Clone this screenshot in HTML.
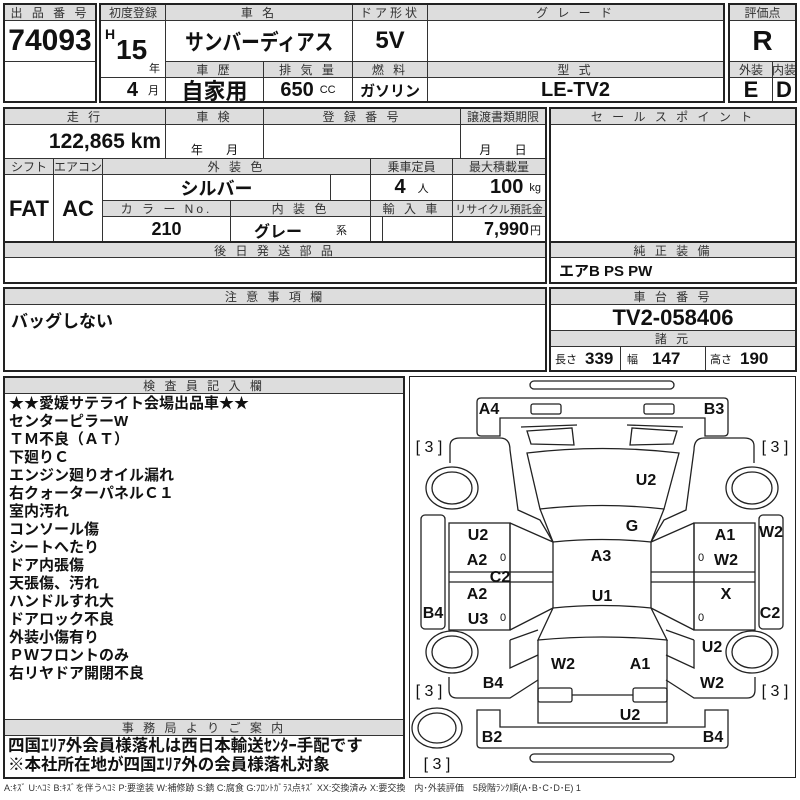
<!DOCTYPE html>
<html><head><meta charset="utf-8"><style>
body{margin:0;width:800px;height:800px;background:#fff;position:relative;overflow:hidden;font-family:"Liberation Sans","Noto Sans CJK JP",sans-serif;color:#111}
.c{position:absolute;box-sizing:border-box;border:1px solid #333;display:flex;align-items:center;justify-content:center;background:#fff;white-space:nowrap;overflow:hidden}
.h{position:absolute;box-sizing:border-box;border:1px solid #333;display:flex;align-items:center;justify-content:center;background:#ddd;font-size:12px;color:#333;letter-spacing:3px;white-space:nowrap}
.o{position:absolute;box-sizing:border-box;border:2px solid #222}
.v{font-weight:bold;font-size:22px}
.s{font-size:11px;font-weight:normal;margin-left:6px}
</style></head><body>
<!-- block 1 -->
<div class="h" style="left:4px;top:4px;width:92px;height:17px">出 品 番 号</div>
<div class="c v" style="left:4px;top:20px;width:92px;height:42px;font-size:30px">74093</div>
<div class="c" style="left:4px;top:61px;width:92px;height:42px"></div>
<div class="o" style="left:3px;top:3px;width:94px;height:100px"></div>

<div class="h" style="left:100px;top:4px;width:66px;height:17px;letter-spacing:0">初度登録</div>
<div class="c" style="left:100px;top:20px;width:66px;height:58px"></div>
<div style="position:absolute;left:105px;top:26px;font-weight:bold;font-size:14px">H</div>
<div style="position:absolute;left:116px;top:34px;font-weight:bold;font-size:28px">15</div>
<div style="position:absolute;left:149px;top:60px;font-size:11px">年</div>
<div class="c" style="left:100px;top:77px;width:66px;height:26px;justify-content:flex-end;padding-right:6px"><b style="font-size:20px">4</b><span class="s" style="margin-left:10px">月</span></div>
<div class="h" style="left:165px;top:4px;width:188px;height:17px">車 名</div>
<div class="c v" style="left:165px;top:20px;width:188px;height:42px;font-size:22px"><span style="display:inline-block;transform:scaleX(0.85)">サンバーディアス</span></div>
<div class="h" style="left:165px;top:61px;width:99px;height:17px">車 歴</div>
<div class="h" style="left:263px;top:61px;width:90px;height:17px">排 気 量</div>
<div class="c v" style="left:165px;top:77px;width:99px;height:26px;font-size:22px">自家用</div>
<div class="c" style="left:263px;top:77px;width:90px;height:26px"><b style="font-size:20px">650</b><span class="s">CC</span></div>
<div class="h" style="left:352px;top:4px;width:76px;height:17px">ドア形状</div>
<div class="c v" style="left:352px;top:20px;width:76px;height:42px;font-size:24px">5V</div>
<div class="h" style="left:352px;top:61px;width:76px;height:17px">燃 料</div>
<div class="c" style="left:352px;top:77px;width:76px;height:26px;font-weight:bold;font-size:15px">ガソリン</div>
<div class="h" style="left:427px;top:4px;width:297px;height:17px">グ レ ー ド</div>
<div class="c" style="left:427px;top:20px;width:297px;height:42px"></div>
<div class="h" style="left:427px;top:61px;width:297px;height:17px">型 式</div>
<div class="c v" style="left:427px;top:77px;width:297px;height:26px;font-size:20px">LE-TV2</div>
<div class="o" style="left:99px;top:3px;width:626px;height:100px"></div>

<div class="h" style="left:729px;top:4px;width:67px;height:17px;letter-spacing:0">評価点</div>
<div class="c v" style="left:729px;top:20px;width:67px;height:42px;font-size:28px">R</div>
<div class="h" style="left:729px;top:61px;width:44px;height:17px;letter-spacing:0">外装</div>
<div class="h" style="left:772px;top:61px;width:24px;height:17px;letter-spacing:0">内装</div>
<div class="c v" style="left:729px;top:77px;width:44px;height:26px">E</div>
<div class="c v" style="left:772px;top:77px;width:24px;height:26px">D</div>
<div class="o" style="left:728px;top:3px;width:69px;height:100px"></div>

<!-- block 2 -->
<div class="h" style="left:4px;top:108px;width:162px;height:17px">走 行</div>
<div class="c" style="left:4px;top:124px;width:162px;height:35px;justify-content:flex-end;padding-right:4px"><b style="font-size:21px">122,865 km</b></div>
<div class="h" style="left:165px;top:108px;width:99px;height:17px">車 検</div>
<div class="c" style="left:165px;top:124px;width:99px;height:35px;align-items:flex-end;font-size:12px">年&nbsp;&nbsp;&nbsp;&nbsp;&nbsp;&nbsp;&nbsp;月</div>
<div class="h" style="left:263px;top:108px;width:198px;height:17px">登 録 番 号</div>
<div class="c" style="left:263px;top:124px;width:198px;height:35px"></div>
<div class="h" style="left:460px;top:108px;width:86px;height:17px;letter-spacing:0">譲渡書類期限</div>
<div class="c" style="left:460px;top:124px;width:86px;height:35px;align-items:flex-end;font-size:12px">月&nbsp;&nbsp;&nbsp;&nbsp;&nbsp;&nbsp;&nbsp;日</div>
<div class="h" style="left:4px;top:158px;width:50px;height:17px;letter-spacing:0">シフト</div>
<div class="h" style="left:53px;top:158px;width:50px;height:17px;letter-spacing:0">エアコン</div>
<div class="c v" style="left:4px;top:174px;width:50px;height:69px">FAT</div>
<div class="c v" style="left:53px;top:174px;width:50px;height:69px">AC</div>
<div class="h" style="left:102px;top:158px;width:269px;height:17px">外 装 色</div>
<div class="c v" style="left:102px;top:174px;width:229px;height:27px;font-size:18px">シルバー</div>
<div class="c" style="left:330px;top:174px;width:41px;height:27px"></div>
<div class="h" style="left:102px;top:200px;width:129px;height:17px">カ ラ ー No.</div>
<div class="h" style="left:230px;top:200px;width:141px;height:17px">内 装 色</div>
<div class="c v" style="left:102px;top:216px;width:129px;height:27px;font-size:18px">210</div>
<div class="c" style="left:230px;top:216px;width:141px;height:27px"><b style="font-size:16px">グレー</b><span class="s" style="margin-left:34px">系</span></div>
<div class="h" style="left:370px;top:158px;width:83px;height:17px;letter-spacing:0">乗車定員</div>
<div class="c" style="left:370px;top:174px;width:83px;height:27px"><b style="font-size:20px">4</b><span class="s" style="margin-left:12px">人</span></div>
<div class="h" style="left:370px;top:200px;width:83px;height:17px">輸 入 車</div>
<div class="c" style="left:370px;top:216px;width:13px;height:27px"></div>
<div class="c" style="left:382px;top:216px;width:71px;height:27px"></div>
<div class="h" style="left:452px;top:158px;width:94px;height:17px;letter-spacing:0">最大積載量</div>
<div class="c" style="left:452px;top:174px;width:94px;height:27px;justify-content:flex-end;padding-right:4px"><b style="font-size:20px">100</b><span class="s">kg</span></div>
<div class="h" style="left:452px;top:200px;width:94px;height:17px;letter-spacing:0;font-size:11px">リサイクル預託金</div>
<div class="c" style="left:452px;top:216px;width:94px;height:27px;justify-content:flex-end;padding-right:4px"><b style="font-size:18px">7,990</b><span class="s" style="margin-left:1px">円</span></div>
<div class="o" style="left:3px;top:107px;width:544px;height:137px"></div>

<div class="h" style="left:550px;top:108px;width:246px;height:17px">セ ー ル ス ポ イ ン ト</div>
<div class="c" style="left:550px;top:124px;width:246px;height:119px"></div>
<div class="o" style="left:549px;top:107px;width:248px;height:137px"></div>

<div class="h" style="left:4px;top:242px;width:542px;height:16px">後 日 発 送 部 品</div>
<div class="c" style="left:4px;top:257px;width:542px;height:26px"></div>
<div class="o" style="left:3px;top:241px;width:544px;height:43px"></div>
<div class="h" style="left:550px;top:242px;width:246px;height:16px">純 正 装 備</div>
<div class="c" style="left:550px;top:257px;width:246px;height:26px;justify-content:flex-start;padding-left:8px;font-weight:bold;font-size:15px">エアB PS PW</div>
<div class="o" style="left:549px;top:241px;width:248px;height:43px"></div>

<div class="h" style="left:4px;top:288px;width:542px;height:17px">注 意 事 項 欄</div>
<div class="c" style="left:4px;top:304px;width:542px;height:67px;align-items:flex-start;justify-content:flex-start;padding:2px 6px;font-weight:bold;font-size:17px">バッグしない</div>
<div class="o" style="left:3px;top:287px;width:544px;height:85px"></div>
<div class="h" style="left:550px;top:288px;width:246px;height:17px">車 台 番 号</div>
<div class="c v" style="left:550px;top:304px;width:246px;height:27px;font-size:22px">TV2-058406</div>
<div class="h" style="left:550px;top:330px;width:246px;height:17px">諸 元</div>
<div class="c" style="left:550px;top:346px;width:71px;height:25px;justify-content:flex-start;padding-left:4px"><span style="font-size:11px">長さ</span><b style="font-size:17px;margin-left:8px">339</b></div>
<div class="c" style="left:620px;top:346px;width:86px;height:25px;justify-content:flex-start;padding-left:6px"><span style="font-size:11px">幅</span><b style="font-size:17px;margin-left:14px">147</b></div>
<div class="c" style="left:705px;top:346px;width:91px;height:25px;justify-content:flex-start;padding-left:4px"><span style="font-size:11px">高さ</span><b style="font-size:17px;margin-left:8px">190</b></div>
<div class="o" style="left:549px;top:287px;width:248px;height:85px"></div>

<!-- inspector -->
<div class="h" style="left:4px;top:377px;width:400px;height:17px">検 査 員 記 入 欄</div>
<div style="position:absolute;left:9px;top:395px;font-size:15px;line-height:18px;font-weight:bold;white-space:nowrap">★★愛媛サテライト会場出品車★★<br>センターピラーW<br>ＴＭ不良（ＡＴ）<br>下廻りＣ<br>エンジン廻りオイル漏れ<br>右クォーターパネルＣ１<br>室内汚れ<br>コンソール傷<br>シートへたり<br>ドア内張傷<br>天張傷、汚れ<br>ハンドルすれ大<br>ドアロック不良<br>外装小傷有り<br>ＰＷフロントのみ<br>右リヤドア開閉不良</div>
<div class="h" style="left:4px;top:719px;width:400px;height:17px">事 務 局 よ り ご 案 内</div>
<div style="position:absolute;left:8px;top:737px;font-size:16.5px;line-height:19px;font-weight:bold;white-space:nowrap">四国ｴﾘｱ外会員様落札は西日本輸送ｾﾝﾀｰ手配です<br>※本社所在地が四国ｴﾘｱ外の会員様落札対象</div>
<div class="o" style="left:3px;top:376px;width:402px;height:403px"></div>
<div style="position:absolute;left:4px;top:781px;font-size:9px;color:#333;white-space:nowrap">A:ｷｽﾞ U:ﾍｺﾐ B:ｷｽﾞを伴うﾍｺﾐ P:要塗装 W:補修跡 S:錆 C:腐食 G:ﾌﾛﾝﾄｶﾞﾗｽ点ｷｽﾞ XX:交換済み X:要交換　内･外装評価　5段階ﾗﾝｸ順(A･B･C･D･E) 1</div>

<!-- diagram -->
<div class="o" style="left:409px;top:376px;width:387px;height:402px;border-width:1.5px"></div>
<svg style="position:absolute;left:0;top:0" width="800" height="800" fill="none" stroke="#222" stroke-width="1.3">
<rect x="530" y="381" width="144" height="8" rx="4"/>
<rect x="530" y="754" width="144" height="8" rx="4"/>
<path d="M481,398 H724 Q728,398 728,402 V432 Q728,436 724,436 H705 V418 H500 V436 H481 Q477,436 477,432 V402 Q477,398 481,398 Z"/>
<rect x="531" y="404" width="30" height="10" rx="2"/><rect x="644" y="404" width="30" height="10" rx="2"/>
<path d="M521,427 L577,425 M627,425 L683,427"/>
<path d="M527,431 L572,428 L574,445 L531,444 Z M677,431 L632,428 L630,445 L673,444 Z"/>
<path d="M527,453 Q602,444 679,453 L664,509 Q602,502 540,509 Z"/>
<path d="M540,509 L553,542 Q602,537 651,542 L664,509"/>
<path d="M553,542 V608 M651,542 V608"/>
<path d="M553,608 Q602,603 651,608 L667,640 Q602,634 538,640 Z"/>
<path d="M538,640 V723 H667 V640"/>
<rect x="538" y="688" width="34" height="14" rx="2"/><rect x="633" y="688" width="34" height="14" rx="2"/>
<path d="M572,695 H633"/>
<path d="M477,710 H500 V727 H705 V710 H728 V744 Q728,748 724,748 H481 Q477,748 477,744 Z"/>
<path d="M450,463 V446 Q450,438 460,438 H500 Q510,438 510,450 L518,510 L540,520 L553,542"/>
<ellipse cx="452" cy="488" rx="26" ry="21"/><ellipse cx="452" cy="488" rx="20" ry="16"/>
<rect x="421" y="515" width="24" height="114" rx="4"/>
<rect x="449" y="523" width="61" height="107"/>
<path d="M449,572 H553 M449,582 H553 M510,523 L553,542 M510,630 L553,608 M510,523 V630"/>
<ellipse cx="452" cy="652" rx="26" ry="21"/><ellipse cx="452" cy="652" rx="20" ry="16"/>
<path d="M510,640 L538,630 M510,640 V668 L538,655 M449,677 V690 Q449,698 457,698 H510 L538,680"/>
<ellipse cx="437" cy="728" rx="25" ry="20"/><ellipse cx="437" cy="728" rx="19" ry="15"/>
<path d="M754,463 V446 Q754,438 744,438 H704 Q694,438 694,450 L686,510 L664,520 L651,542"/>
<ellipse cx="752" cy="488" rx="26" ry="21"/><ellipse cx="752" cy="488" rx="20" ry="16"/>
<rect x="759" y="515" width="24" height="114" rx="4"/>
<rect x="694" y="523" width="61" height="107"/>
<path d="M755,572 H651 M755,582 H651 M694,523 L651,542 M694,630 L651,608 M694,523 V630"/>
<ellipse cx="752" cy="652" rx="26" ry="21"/><ellipse cx="752" cy="652" rx="20" ry="16"/>
<path d="M694,640 L666,630 M694,640 V668 L666,655 M755,677 V690 Q755,698 747,698 H694 L666,680"/>
</svg>
<div style="position:absolute;left:0;top:0;width:800px;height:800px;font-weight:bold;font-size:16px">
<style>.l{position:absolute;transform:translate(-50%,-50%);white-space:nowrap}.k{font-weight:normal}.z{font-size:11px;font-weight:normal}</style>
<span class="l" style="left:489px;top:410px">A4</span><span class="l" style="left:714px;top:410px">B3</span>
<span class="l k" style="left:429px;top:448px">[ 3 ]</span><span class="l k" style="left:775px;top:448px">[ 3 ]</span>
<span class="l" style="left:646px;top:481px">U2</span><span class="l" style="left:632px;top:527px">G</span>
<span class="l" style="left:478px;top:536px">U2</span><span class="l" style="left:477px;top:561px">A2</span><span class="l z" style="left:503px;top:558px">0</span>
<span class="l" style="left:500px;top:578px">C2</span><span class="l" style="left:477px;top:595px">A2</span><span class="l" style="left:478px;top:620px">U3</span><span class="l z" style="left:503px;top:618px">0</span>
<span class="l" style="left:433px;top:614px">B4</span>
<span class="l" style="left:601px;top:557px">A3</span><span class="l" style="left:602px;top:597px">U1</span>
<span class="l" style="left:725px;top:536px">A1</span><span class="l" style="left:726px;top:561px">W2</span><span class="l z" style="left:701px;top:558px">0</span>
<span class="l" style="left:771px;top:533px">W2</span><span class="l" style="left:726px;top:595px">X</span><span class="l z" style="left:701px;top:618px">0</span>
<span class="l" style="left:770px;top:614px">C2</span>
<span class="l" style="left:712px;top:648px">U2</span><span class="l" style="left:563px;top:665px">W2</span><span class="l" style="left:640px;top:665px">A1</span>
<span class="l" style="left:493px;top:684px">B4</span><span class="l" style="left:712px;top:684px">W2</span>
<span class="l k" style="left:429px;top:692px">[ 3 ]</span><span class="l k" style="left:775px;top:692px">[ 3 ]</span>
<span class="l" style="left:630px;top:716px">U2</span><span class="l" style="left:492px;top:738px">B2</span><span class="l" style="left:713px;top:738px">B4</span>
<span class="l k" style="left:437px;top:765px">[ 3 ]</span>
</div>
</body></html>
